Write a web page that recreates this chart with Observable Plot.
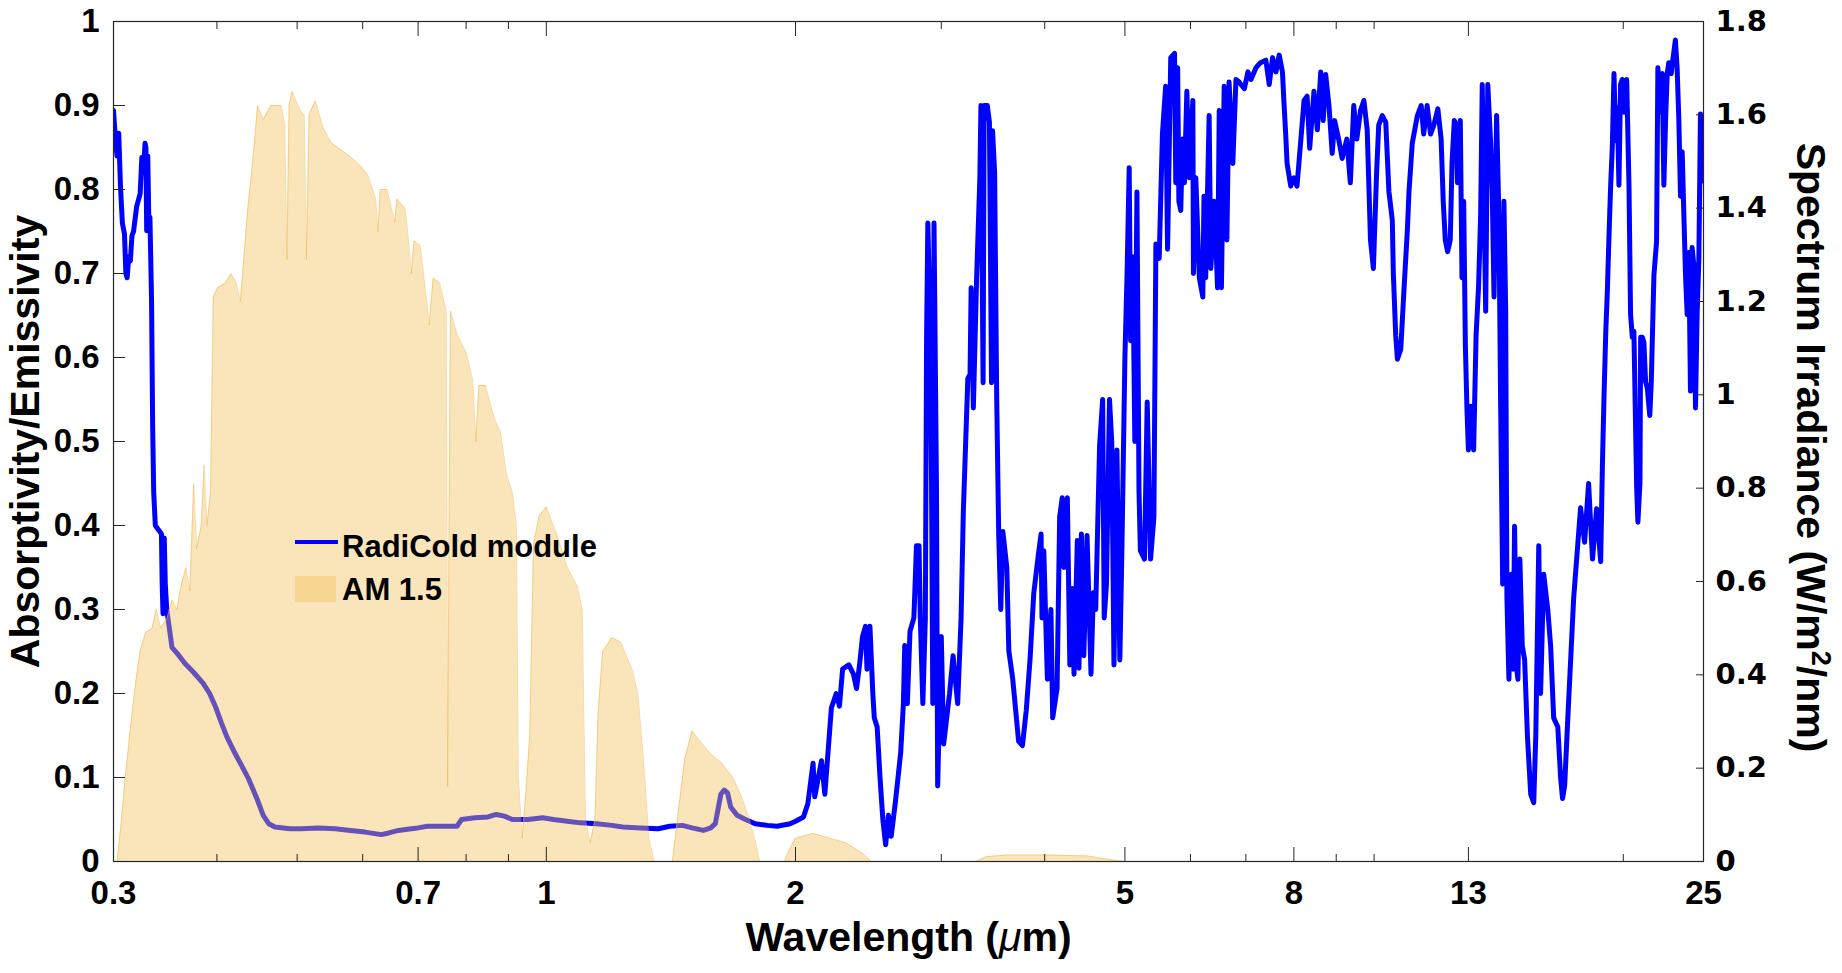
<!DOCTYPE html>
<html><head><meta charset="utf-8">
<script src="https://cdn.jsdelivr.net/npm/d3@7"></script>
<script src="https://cdn.jsdelivr.net/npm/@observablehq/plot@0.6"></script>
<style>html,body{margin:0;padding:0;background:#fff;} #chart{width:1842px;height:973px;}</style>
</head><body><div id="chart"></div>
<script>
// RadiCold module absorptivity/emissivity (left axis)
const emisWave = [0.300,0.3017,0.3030,0.3044,0.3059,0.3075,0.3093,0.3105,0.3116,0.3130,0.3144,0.3158,0.3172,0.3200,0.3231,0.3246,0.3260,0.3275,0.3283,0.3290,0.3300,0.3310,0.3320,0.3335,0.3345,0.3355,0.337,0.3428,0.3435,0.3443,0.3455,0.3465,0.3479,0.353,0.360,0.3658,0.375,0.385,0.392,0.3989,0.405,0.411,0.42,0.428,0.437,0.447,0.455,0.462,0.47,0.49,0.506,0.53,0.556,0.58,0.604,0.632,0.645,0.663,0.687,0.70,0.718,0.75,0.78,0.79,0.82,0.85,0.87,0.89,0.91,0.95,0.99,1.02,1.06,1.1,1.15,1.2,1.237,1.3,1.365,1.41,1.46,1.5,1.548,1.58,1.60,1.625,1.64,1.655,1.67,1.70,1.74,1.788,1.85,1.9,1.97,2.0,
2.045,2.07,2.10,2.11,2.15,2.17,2.21,2.24,2.26,2.28,2.32,2.35,2.37,2.39,2.41,2.43,2.44,2.46,2.48,2.49,2.51,2.53,2.55,2.57,2.59,2.61,2.64,2.66,2.68,2.70,2.71,2.73,2.75,2.78,2.80,2.82,2.83,2.85,2.87,2.88,2.89,2.91,2.92,2.93,2.94,2.96,2.97,3.00,3.02,3.07,3.10,3.14,3.17,3.19,3.23,3.25,3.26,3.28,3.31,3.34,3.35,3.37,3.38,3.41,3.43,3.45,3.46,3.48,3.50,3.52,3.54,3.56,3.60,3.62,3.66,3.72,3.76,3.80,3.84,3.88,3.93,3.96,3.97,3.99,4.03,4.07,4.09,4.14,4.17,4.20,4.22,4.26,4.29,4.32,4.34,4.38,4.40,4.43,4.46,4.50,4.55,4.58,4.61,4.66,4.70,4.72,4.75,4.79,4.82,4.85,4.89,4.93,4.96,5.00,5.03,5.06,5.08,5.11,5.14,5.17,5.20,5.22,5.28,5.32,
5.37,5.42,5.45,5.50,5.55,5.60,5.63,5.68,5.74,5.76,5.79,5.81,5.84,5.87,5.90,5.94,5.98,6.04,6.05,6.09,6.15,6.21,6.23,6.26,6.32,6.35,6.41,6.47,6.50,6.54,6.59,6.64,6.68,6.75,6.81,6.87,6.97,7.04,7.10,7.20,7.29,7.40,7.47,7.54,7.61,7.68,7.75,7.78,7.82,7.85,7.93,8.00,8.07,8.15,8.23,8.30,8.36,8.46,8.54,8.62,8.68,8.74,8.82,8.90,8.96,9.06,9.15,9.27,9.36,9.45,9.53,9.63,9.72,9.81,9.90,9.98,10.07,10.13,10.23,10.33,10.42,10.52,10.55,10.62,10.67,10.77,10.87,10.97,11.02,11.12,11.28,11.40,11.48,11.59,11.70,11.81,11.94,12.05,12.12,12.19,12.27,12.36,12.42,12.50,12.57,12.61,12.71,12.77,12.83,12.89,12.95,13.00,13.09,13.19,13.28,13.37,13.45,13.51,13.57,13.64,13.72,13.83,13.89,13.96,14.06,14.15,14.22,
14.30,14.35,14.42,14.47,14.55,14.65,14.72,14.78,14.87,14.92,15.0,15.1,15.2,15.32,15.46,15.59,15.68,15.81,15.89,16.03,16.21,16.34,16.48,16.67,16.80,16.89,16.99,17.13,17.42,17.76,17.96,18.16,18.36,18.57,18.78,18.87,18.96,19.05,19.13,19.22,19.31,19.40,19.49,19.58,19.67,19.76,19.85,19.94,20.04,20.19,20.32,20.41,20.51,20.60,20.64,20.76,20.83,20.95,20.99,21.09,21.18,21.28,21.38,21.53,21.62,21.78,21.94,22.02,22.14,22.29,22.39,22.50,22.60,22.70,22.85,22.98,23.12,23.23,23.34,23.45,23.56,23.67,23.78,23.89,24.00,24.11,24.22,24.33,24.45,24.56,24.68,24.79,24.91,25.0];
const emisValue = [0.894,0.858,0.84,0.867,0.803,0.76,0.747,0.70,0.695,0.72,0.715,0.745,0.75,0.78,0.795,0.838,0.82,0.855,0.85,0.751,0.84,0.76,0.767,0.668,0.52,0.44,0.40,0.39,0.33,0.295,0.385,0.33,0.30,0.255,0.245,0.236,0.225,0.212,0.20,0.183,0.165,0.149,0.13,0.115,0.098,0.075,0.055,0.045,0.041,0.039,0.039,0.04,0.039,0.037,0.035,0.032,0.034,0.037,0.039,0.04,0.042,0.042,0.042,0.05,0.052,0.053,0.056,0.054,0.05,0.05,0.052,0.05,0.048,0.046,0.045,0.043,0.041,0.04,0.039,0.042,0.043,0.04,0.037,0.04,0.045,0.08,0.085,0.082,0.065,0.055,0.05,0.045,0.043,0.042,0.045,0.048,
0.053,0.069,0.117,0.077,0.12,0.08,0.183,0.20,0.185,0.229,0.234,0.223,0.206,0.234,0.268,0.28,0.229,0.28,0.20,0.171,0.16,0.10,0.05,0.02,0.055,0.03,0.07,0.10,0.13,0.188,0.257,0.188,0.274,0.29,0.376,0.376,0.29,0.188,0.29,0.626,0.76,0.63,0.45,0.188,0.76,0.45,0.09,0.268,0.14,0.20,0.245,0.188,0.29,0.417,0.575,0.58,0.683,0.54,0.695,0.814,0.90,0.57,0.90,0.90,0.88,0.57,0.87,0.82,0.553,0.388,0.30,0.393,0.35,0.251,0.217,0.143,0.138,0.18,0.24,0.319,0.365,0.39,0.29,0.37,0.217,0.30,0.171,0.206,0.41,0.433,0.35,0.433,0.234,0.325,0.223,0.382,0.23,0.39,0.245,0.388,0.223,0.32,0.30,0.495,0.55,0.29,0.33,0.55,0.50,0.234,0.49,0.24,0.38,0.60,0.70,0.826,0.62,0.72,0.50,0.797,0.44,0.37,0.36,0.547,
0.36,0.41,0.735,0.718,0.866,0.923,0.729,0.957,0.962,0.808,0.945,0.786,0.775,0.86,0.808,0.917,0.814,0.906,0.70,0.814,0.695,0.672,0.792,0.695,0.888,0.706,0.786,0.683,0.894,0.683,0.923,0.74,0.928,0.831,0.931,0.928,0.92,0.94,0.931,0.945,0.951,0.954,0.925,0.957,0.94,0.96,0.94,0.906,0.866,0.831,0.804,0.814,0.804,0.855,0.906,0.911,0.849,0.917,0.871,0.94,0.882,0.937,0.90,0.843,0.882,0.86,0.837,0.86,0.808,0.90,0.86,0.894,0.906,0.871,0.74,0.706,0.82,0.877,0.888,0.88,0.798,0.763,0.70,0.626,0.598,0.61,0.683,0.752,0.798,0.855,0.888,0.90,0.866,0.90,0.866,0.877,0.896,0.86,0.786,0.74,0.726,0.74,0.831,0.882,0.877,0.808,0.882,0.695,0.786,0.615,0.536,0.49,0.542,0.49,0.626,0.683,0.769,0.925,0.798,0.655,0.925,0.855,0.798,0.672,0.888,0.769,0.542,
0.33,0.786,0.655,0.314,0.217,0.342,0.229,0.399,0.229,0.217,0.36,0.257,0.24,0.149,0.08,0.07,0.15,0.376,0.2,0.342,0.3,0.257,0.171,0.16,0.1,0.075,0.09,0.165,0.313,0.421,0.38,0.45,0.36,0.42,0.357,0.47,0.557,0.631,0.677,0.744,0.805,0.851,0.938,0.858,0.898,0.805,0.925,0.931,0.892,0.931,0.805,0.651,0.624,0.631,0.584,0.444,0.404,0.451,0.624,0.624,0.618,0.571,0.564,0.531,0.571,0.698,0.738,0.945,0.892,0.938,0.805,0.885,0.938,0.951,0.938,0.958,0.978,0.945,0.885,0.792,0.845,0.771,0.698,0.651,0.725,0.56,0.731,0.711,0.54,0.651,0.718,0.89,0.81,0.88];

// AM 1.5 solar spectrum, W/m^2/nm (right axis)
const amWave = [0.300,0.303,0.306,0.310,0.313,0.316,0.320,0.323,0.328,0.334,0.338,0.342,0.348,0.353,0.358,0.362,0.367,0.371,0.375,0.378,0.383,0.386,0.389,0.393,0.396,0.401,0.410,0.416,0.422,0.427,0.431,0.436,0.443,0.448,0.455,0.465,0.478,0.483,0.486,0.489,0.493,0.504,0.510,0.513,0.517,0.526,0.538,0.55,0.58,0.597,0.609,0.622,0.626,0.63,0.642,0.656,0.66,0.675,0.68,0.687,0.692,0.704,0.717,0.722,0.73,0.743,0.757,0.760,0.763,0.766,0.78,0.800,0.815,0.822,0.829,0.844,0.865,0.88,0.895,0.91,0.92,0.925,0.935,0.945,0.955,0.965,0.98,1.0,1.03,1.06,1.09,1.105,1.115,1.13,1.145,1.155,1.17,1.20,1.23,1.25,1.27,1.29,1.31,1.33,1.35,1.42,1.44,1.47,1.50,1.53,1.58,1.63,1.68,1.72,1.76,1.79,1.81,1.94,1.96,2.0,2.1,2.2,2.3,2.4,2.47,3.3,3.4,3.6,4.0,4.5,4.8,5.0];
const amIrr = [0,0,0.07,0.18,0.25,0.32,0.40,0.45,0.49,0.50,0.54,0.50,0.52,0.56,0.54,0.59,0.63,0.58,0.81,0.67,0.72,0.85,0.72,0.79,1.21,1.23,1.24,1.26,1.24,1.20,1.29,1.40,1.52,1.62,1.59,1.62,1.62,1.58,1.29,1.62,1.65,1.61,1.60,1.29,1.60,1.63,1.57,1.54,1.51,1.49,1.47,1.42,1.35,1.44,1.44,1.37,1.42,1.40,1.35,1.26,1.33,1.32,1.20,1.15,1.25,1.24,1.18,0.16,0.72,1.18,1.13,1.09,1.03,0.90,1.02,1.02,0.95,0.92,0.83,0.79,0.72,0.18,0.05,0.15,0.27,0.68,0.74,0.76,0.70,0.63,0.59,0.54,0.09,0.04,0.09,0.32,0.45,0.48,0.47,0.44,0.41,0.36,0.22,0.05,0,0,0.09,0.22,0.28,0.26,0.23,0.21,0.18,0.14,0.09,0.04,0,0,0.02,0.05,0.06,0.05,0.04,0.02,0,0,0.01,0.014,0.014,0.012,0.004,0];

const xTickValues = [0.3,0.4,0.5,0.6,0.7,0.8,0.9,1,2,3,4,5,6,7,8,9,10,13,20,25];
const xTickLabels = [0.3,0.7,1,2,5,8,13,25];
const leftTicks = [0,0.1,0.2,0.3,0.4,0.5,0.6,0.7,0.8,0.9,1];
const rightTicks = [0,0.2,0.4,0.6,0.8,1,1.2,1.4,1.6,1.8];
const RIGHT_MAX = 1.8;

const emis = emisWave.map((w, i) => ({w, v: emisValue[i]}));
const am = amWave.map((w, i) => ({w, irr: amIrr[i]}));
const xMinor = xTickValues.filter(t => !xTickLabels.includes(t));
const fmt = d => String(+(+d).toFixed(1));

const ARIAL = "'Liberation Sans', Arial, Helvetica, sans-serif";
const DEJAVU = "'DejaVu Sans', Verdana, sans-serif";
const AXIS = "#262626";

const chart = Plot.plot({
  width: 1842, height: 973,
  marginLeft: 113, marginRight: 139, marginTop: 21, marginBottom: 112,
  style: {fontFamily: ARIAL, background: "#fff", color: "#000"},
  x: {type: "log", domain: [0.3, 25], axis: null},
  y: {domain: [0, 1], axis: null},
  marks: [
    Plot.lineY(emis, {x: "w", y: "v", stroke: "#0000ff", strokeWidth: 5, clip: true}),
    Plot.areaY(am, {x: "w", y: d => d.irr / RIGHT_MAX, fill: "#f4c05a", fillOpacity: 0.42, clip: true}),
    Plot.lineY(am, {x: "w", y: d => d.irr / RIGHT_MAX, stroke: "#eeb040", strokeOpacity: 0.45, strokeWidth: 1, clip: true}),
    Plot.frame({stroke: AXIS, strokeWidth: 1.2}),
    // tick marks (pointing inward)
    Plot.axisX(xTickLabels, {anchor: "bottom", tickSize: -14, fill: "none", stroke: AXIS, label: null}),
    Plot.axisX(xMinor, {anchor: "bottom", tickSize: -7, fill: "none", stroke: AXIS, label: null}),
    Plot.axisX(xTickLabels, {anchor: "top", tickSize: -14, fill: "none", stroke: AXIS, label: null}),
    Plot.axisX(xMinor, {anchor: "top", tickSize: -7, fill: "none", stroke: AXIS, label: null}),
    Plot.axisY(leftTicks, {anchor: "left", tickSize: -12, fill: "none", stroke: AXIS, label: null}),
    Plot.axisY(rightTicks.map(t => t / RIGHT_MAX), {anchor: "right", tickSize: -8, fill: "none", stroke: AXIS, label: null}),
    // tick labels
    Plot.axisX(xTickLabels, {anchor: "bottom", tickSize: 0, tickPadding: 19, tickFormat: d => String(d), fontSize: 33, fontWeight: "bold", fontFamily: ARIAL, fill: "#000", label: null}),
    Plot.axisY(leftTicks, {anchor: "left", tickSize: 0, tickPadding: 14, tickFormat: fmt, fontSize: 33, fontWeight: "bold", fontFamily: ARIAL, fill: "#000", label: null}),
    Plot.axisY(rightTicks.map(t => t / RIGHT_MAX), {anchor: "right", tickSize: 0, tickPadding: 12, tickFormat: d => fmt(d * RIGHT_MAX), fontSize: 29, fontWeight: "bold", fontFamily: DEJAVU, fill: "#000", label: null}),
    // axis titles
    Plot.text(["Absorptivity/Emissivity"], {frameAnchor: "left", textAnchor: "middle", dx: -88, rotate: -90, text: d => d, fontSize: 41, fontWeight: "bold", fontFamily: ARIAL, fill: "#000"}),
    Plot.text(["Spectrum Irradiance (W/m2/nm)"], {frameAnchor: "right", textAnchor: "middle", dx: 107, dy: 6, rotate: 90, text: d => d, fontSize: 41, fontWeight: "bold", fontFamily: ARIAL, fill: "#000"}),
    Plot.text(["Wavelength (\u03bcm)"], {frameAnchor: "bottom", textAnchor: "middle", dy: 89, text: d => d, fontSize: 41, fontWeight: "bold", fontFamily: ARIAL, fill: "#000"})
  ]
});

document.getElementById("chart").appendChild(chart);

// rich text for axis titles
const svg = d3.select(chart);
svg.selectAll("text").each(function() {
  const t = this.textContent;
  if (t === "Wavelength (\u03bcm)") {
    this.innerHTML = 'Wavelength (<tspan font-style="italic" font-weight="normal">\u03bc</tspan>m)';
  } else if (t === "Spectrum Irradiance (W/m2/nm)") {
    this.innerHTML = 'Spectrum Irradiance (W/m<tspan dy="-15" font-size="27">2</tspan><tspan dy="15">/nm)</tspan>';
  }
});

// legend
const leg = svg.append("g").attr("font-family", ARIAL).attr("font-weight", "bold").attr("font-size", 31).attr("text-anchor", "start").attr("fill", "#000");
leg.append("line").attr("x1", 295).attr("x2", 338).attr("y1", 542).attr("y2", 542).attr("stroke", "#0000ff").attr("stroke-width", 4);
leg.append("text").attr("x", 342).attr("y", 557).attr("text-anchor", "start").text("RadiCold module");
leg.append("rect").attr("x", 295).attr("y", 576).attr("width", 41).attr("height", 26).attr("fill", "#f4c05a").attr("fill-opacity", 0.42);
leg.append("text").attr("x", 342).attr("y", 600).attr("text-anchor", "start").text("AM 1.5");
</script>
</body></html>
